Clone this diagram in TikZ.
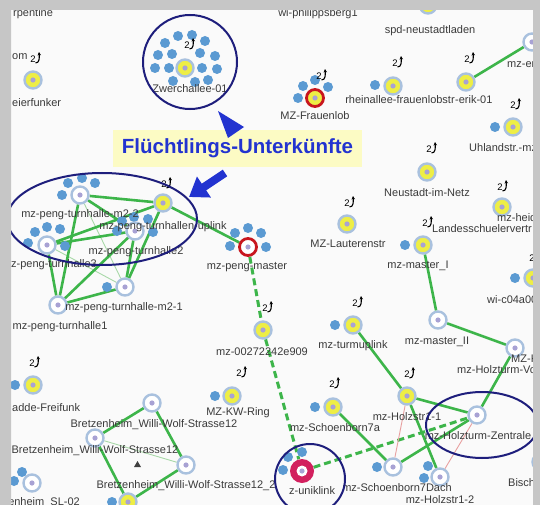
\documentclass[tikz,border=0pt]{standalone}
\usepackage{fontspec}
\setmainfont{Liberation Sans}
\usetikzlibrary{positioning,arrows.meta}
\definecolor{frame}{HTML}{C6C6C6}
\definecolor{canvas}{HTML}{FAFAFA}
\definecolor{apyellow}{HTML}{EEEE45}
\definecolor{apring}{HTML}{A9C1DE}
\definecolor{apdot}{HTML}{A8A2D4}
\definecolor{apred}{HTML}{C8161E}
\definecolor{unired}{HTML}{D2205E}
\definecolor{client}{HTML}{5B9AD2}
\definecolor{meshgreen}{HTML}{3DB54A}
\definecolor{navy}{HTML}{1E1E7C}
\definecolor{calloutbg}{HTML}{FCFBC4}
\definecolor{calloutblue}{HTML}{2233D0}
\definecolor{labeltext}{HTML}{3A3A3A}
\definecolor{faintlink}{HTML}{A8D8A8}
\definecolor{weaklink}{HTML}{E8A0A0}
\pgfdeclarelayer{bg}
\pgfdeclarelayer{edges}
\pgfdeclarelayer{fg}
\pgfsetlayers{bg,edges,main,fg}

\begin{document}
\begin{tikzpicture}[x=1pt, y=-1pt,
  lbl/.style={font=\fontsize{11}{12}\selectfont, text=labeltext, inner sep=0pt},
  ap/.style={circle, minimum size=17pt, inner sep=0pt, fill=apyellow, draw=apring,
             line width=2.4pt,
             path picture={\fill[apdot] (path picture bounding box.center) circle [radius=2.6pt];}},
  wap/.style={ap, fill=white},
  rap/.style={ap, draw=apred, line width=2.8pt},
  uni/.style={circle, minimum size=24pt, inner sep=0pt, fill=unired,
              path picture={\fill[white] (path picture bounding box.center) circle [radius=5.5pt];
                            \fill[apdot] (path picture bounding box.center) circle [radius=2.6pt];}},
  cl/.style={circle, minimum size=10pt, inner sep=0pt, fill=client},
  link/.style={draw=meshgreen, line width=2.6pt},
  weak/.style={draw=faintlink, line width=0.9pt},
  vpn/.style={draw=meshgreen, line width=3pt, dash pattern=on 7pt off 4pt},
  ring/.style={draw=navy, line width=2pt},
  callout/.style={fill=calloutbg, minimum width=249pt, minimum height=37pt, inner sep=0pt,
                  font=\fontsize{20.5}{24}\selectfont\bfseries, text=calloutblue},
  fatarrow/.style={draw=calloutblue, line width=8pt, -{Triangle[length=18pt, width=24pt]}},
  hop/.pic={
    \node[font=\fontsize{9.5}{10}\selectfont, inner sep=0pt] (-two) at (-3,1) {2};
    \draw[line width=1.1pt, -{Stealth[length=3.5pt, width=3.5pt]}]
      (-0.5,5) .. controls (3.5,5) and (3.5,0) .. (3,-6);
  },
]
\useasboundingbox (0,0) rectangle (540,505);
\begin{pgfonlayer}{bg}
  \fill[canvas] (0,0) rectangle (540,505);
\end{pgfonlayer}

% clients first, access points on top
\foreach \p [count=\i] in {(165,43),(178,36),(192,35),(205,41),(158,55),(172,54),(200,53),
    (215,56),(155,68),(169,68),(202,68),(217,69),(173,81),(195,82),(208,80)}
  \node[cl] (zc\i) at \p {};
\foreach \p [count=\i] in {(303,86),(315,80),(328,87),(298,98)}
  \node[cl] (fc\i) at \p {};
\foreach \p [count=\i] in {(68,183),(82,178),(95,183),(62,195)}
  \node[cl] (ac\i) at \p {};
\foreach \p [count=\i] in {(122,221),(134,217),(148,219),(153,232),(117,231)}
  \node[cl] (bc\i) at \p {};
\foreach \p [count=\i] in {(35,232),(47,227),(60,229),(28,243),(65,246)}
  \node[cl] (cc\i) at \p {};
\foreach \p [count=\i] in {(235,233),(248,228),(261,233),(230,246),(266,247)}
  \node[cl] (pc\i) at \p {};
\foreach \p [count=\i] in {(288,457),(302,452),(283,470)}
  \node[cl] (uc\i) at \p {};
\foreach \p [count=\i] in {(375,85),(495,127),(405,245),(515,278),(335,325),(315,407),
    (215,396),(15,385),(107,287),(377,467),(428,466),(424,478),(14,481),(22,472),(112,502)}
  \node[cl] (sc\i) at \p {};

% access points
\node[ap] (spd) at (428,5) {};
\node[ap] (feier) at (33,80) {};
\node[ap] (zwerch) at (185,68) {};
\node[rap] (frauenlob) at (315,98) {};
\node[ap] (rhein) at (393,86) {};
\node[ap] (erik) at (466,82) {};
\node[wap] (mzerik) at (532,42) {};
\node[ap] (uhland) at (513,127) {};
\node[ap] (neustadt) at (427,172) {};
\node[ap] (heide) at (502,207) {};
\node[ap] (lauteren) at (347,224) {};
\node[ap] (master1) at (423,245) {};
\node[ap] (wic04) at (533,278) {};
\node[wap] (m22) at (80,195) {};
\node[ap] (uplink) at (163,203) {};
\node[wap] (th2) at (135,231) {};
\node[wap] (th3) at (47,245) {};
\node[wap] (m21) at (125,287) {};
\node[wap] (th1) at (58,305) {};
\node[rap, fill=white] (master) at (248,247) {};
\node[ap] (e909) at (263,330) {};
\node[wap] (master2) at (438,320) {};
\node[wap] (mzko) at (515,348) {};
\node[ap] (turmup) at (353,325) {};
\node[ap] (holz11) at (407,396) {};
\node[wap] (hz) at (477,415) {};
\node[ap] (schoen7a) at (333,407) {};
\node[wap] (schoen7d) at (393,467) {};
\node[wap] (holz12) at (440,477) {};
\node[ap] (bischo) at (541,462) {};
\node[ap] (ladde) at (33,385) {};
\node[ap] (kwring) at (232,396) {};
\node[wap] (bw1) at (152,403) {};
\node[wap] (bw2) at (95,438) {};
\node[wap] (bw3) at (186,465) {};
\node[wap] (sl02) at (32,483) {};
\node[ap] (ybot) at (128,502) {};
\node[uni] (uniklink) at (302,471) {};

% links
\begin{pgfonlayer}{edges}
  \draw[weak] (th3) -- (m21);
  \draw[weak] (m22) -- (m21);
  \draw[weak] (bw2) -- (bw3);
  \draw[link] (m22) -- (uplink);
  \draw[link] (m22) -- (th2);
  \draw[link] (th3) -- (uplink);
  \draw[link] (th3) -- (th2);
  \draw[link] (m22) -- (th1);
  \draw[link] (th3) -- (th1);
  \draw[link] (th2) -- (m21);
  \draw[link] (uplink) -- (m21);
  \draw[link] (m21) -- (th1);
  \draw[link] (th2) -- (th1);
  \draw[link] (uplink) -- (master);
  \draw[vpn] (master) -- (e909);
  \draw[vpn] (e909) -- (uniklink);
  \draw[vpn] (uniklink) -- (hz);
  \draw[link] (erik) -- (mzerik);
  \draw[link] (master1) -- (master2);
  \draw[link] (master2) -- (mzko);
  \draw[link] (mzko) -- (hz);
  \draw[link] (turmup) -- (holz11);
  \draw[link] (holz11) -- (hz);
  \draw[link] (holz11) -- (holz12);
  \draw[link] (schoen7a) -- (schoen7d);
  \draw[link] (schoen7d) -- (hz);
  \draw[weak, draw=weaklink] (holz11) -- (schoen7d);
  \draw[weak, draw=weaklink] (hz) -- (holz12);
  \draw[link] (bw1) -- (bw2);
  \draw[link] (bw1) -- (bw3);
  \draw[link] (bw2) -- (ybot);
  \draw[link] (ybot) -- (bw3);
\end{pgfonlayer}

% hop counts
\pic (h1) at (36,58) {hop};
\pic (h2) at (190,44) {hop};
\pic (h3) at (322,75) {hop};
\pic (h4) at (398,62) {hop};
\pic (h5) at (470,58) {hop};
\pic (h6) at (516,104) {hop};
\pic (h7) at (432,148) {hop};
\pic (h8) at (503,186) {hop};
\pic (h9) at (428,222) {hop};
\pic (h10) at (350,202) {hop};
\pic (h11) at (535,257) {hop};
\pic (h12) at (167,183) {hop};
\pic (h13) at (268,307) {hop};
\pic (h14) at (358,302) {hop};
\pic (h15) at (410,373) {hop};
\pic (h16) at (335,383) {hop};
\pic (h17) at (242,372) {hop};
\pic (h18) at (35,362) {hop};

% labels
\node[lbl, anchor=west] (serpl) at (13,14) {rpentine};
\node[lbl] (phill) at (318,14) {wi-philippsberg1};
\node[lbl] (spdl) at (430,31) {spd-neustadtladen};
\node[lbl, anchor=west] (oml) at (12,57) {om};
\node[lbl, anchor=west] (feierl) at (12,103) {eierfunker};
\node[lbl] (zwerchl) at (190,89) {Zwerchallee-01};
\node[lbl] (frauenlobl) at (315,116) {MZ-Frauenlob};
\node[lbl] (rheinl) at (400,100) {rheinallee-frauenlobstr};
\node[lbl, right=0pt of rheinl] (erikl) {-erik-01};
\node[lbl, anchor=west] (mzerikl) at (507,64) {mz-erik};
\node[lbl, anchor=west] (uhlandl) at (469,148) {Uhlandstr.-mz};
\node[lbl] (neustadtl) at (427,193) {Neustadt-im-Netz};
\node[lbl, anchor=west] (heidel) at (497,218) {mz-heide};
\node[lbl, anchor=west] (landesl) at (432,229) {Landesschuelervertr};
\node[lbl] (lauterenl) at (348,244) {MZ-Lauterenstr};
\node[lbl] (master1l) at (418,266) {mz-master\_I};
\node[lbl, anchor=west] (wic04l) at (487,300) {wi-c04a00};
\node[lbl] (m22l) at (80,215) {mz-peng-turnhalle-m2-2};
\node[lbl] (uplinkl) at (163,227) {mz-peng-turnhallen-uplink};
\node[lbl] (th2l) at (136,252) {mz-peng-turnhalle2};
\node[lbl, anchor=east] (th3l) at (97,265) {z-peng-turnhalle3};
\node[lbl] (m21l) at (124,308) {mz-peng-turnhalle-m2-1};
\node[lbl] (th1l) at (60,327) {mz-peng-turnhalle1};
\node[lbl] (masterl) at (247,267) {mz-peng-master};
\node[lbl] (e909l) at (262,352) {mz-00272242e909};
\node[lbl] (master2l) at (437,342) {mz-master\_II};
\node[lbl, anchor=west] (mzkol) at (511,359) {MZ-Ko};
\node[lbl, anchor=west] (vornl) at (457,370) {mz-Holzturm-Vorn};
\node[lbl] (turmupl) at (353,346) {mz-turmuplink};
\node[lbl] (holz11l) at (407,417) {mz-Holzstr1-1};
\node[lbl] (hzl) at (478,436) {mz-Holzturm-Zentrale};
\node[lbl] (schoen7al) at (335,428) {mz-Schoenborn7a};
\node[lbl] (schoen7dl) at (397,488) {mz-Schoenborn7Dach};
\node[lbl] (holz12l) at (440,500) {mz-Holzstr1-2};
\node[lbl, anchor=west] (bischol) at (508,483) {Bischo};
\node[lbl, anchor=west] (laddel) at (12,408) {adde-Freifunk};
\node[lbl] (kwringl) at (238,413) {MZ-KW-Ring};
\node[lbl] (bw1l) at (154,425) {Bretzenheim\_Willi-Wolf-Strasse12};
\node[lbl] (bw2l) at (95,451) {Bretzenheim\_Willi-Wolf-Strasse12};
\node[lbl] (bw3l) at (186,486) {Bretzenheim\_Willi-Wolf-Strasse12\_2};
\node[lbl, anchor=west] (unil) at (289,491) {z-uniklink};
\node[lbl, anchor=east] (sl02l) at (80,503) {enheim\_SL-02};
\fill[black!75] (134,467) -- (137.5,461) -- (141,467) -- cycle;

% highlights
\draw[ring] (190,62) circle [radius=47pt];
\draw[ring] (102,219) ellipse [x radius=95pt, y radius=46pt];
\draw[ring] (310,479) circle [radius=35pt];
\draw[ring] (482,425) ellipse [x radius=56pt, y radius=33pt];

\node[callout] (flu) at (237.5,148.5) {Flüchtlings-Unterkünfte};
\fill[calloutblue] (218,111) -- (244,127) -- (228,138) -- cycle;
\coordinate (tailL) at (225,173);
\coordinate (tipL) at (189,197);
\draw[fatarrow] (tailL) -- (tipL);

\begin{pgfonlayer}{fg}
  \fill[frame, even odd rule] (0,0) rectangle (540,505) (11,10) rectangle (533,506);
\end{pgfonlayer}
\end{tikzpicture}
\end{document}
